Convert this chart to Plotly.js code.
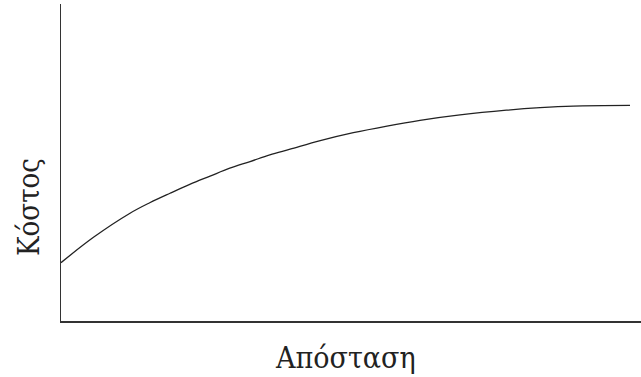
<!DOCTYPE html>
<html>
<head>
<meta charset="utf-8">
<script src="https://cdn.plot.ly/plotly-3.0.1.min.js"></script>
<style>html,body{margin:0;padding:0;background:#fff;}#chart{width:641px;height:377px;}</style>
</head>
<body>
<div id="chart"></div>
<script>
// Distance (arbitrary units) and cost (arbitrary units)
const distance = [0, 5.6, 11.9, 15.3, 18.8, 22.2, 25.7, 29.1, 32.6, 36.0, 39.5, 44.7, 50.4, 56.2, 61.9, 68.8, 76.8, 82.6, 88.3, 98.1];
const cost     = [18.4, 26.4, 34.0, 37.3, 40.3, 43.1, 45.7, 48.2, 50.3, 52.4, 54.2, 56.9, 59.4, 61.5, 63.3, 65.0, 66.5, 67.3, 67.8, 68.0];
const xLabel = "Απόσταση";
const yLabel = "Κόστος";

const trace = {
  x: distance, y: cost, type: "scatter", mode: "lines",
  line: {color: "#222222", width: 1.3, shape: "spline", smoothing: 1},
  hoverinfo: "skip"
};
const fam = "DejaVu Serif Condensed, DejaVu Serif, serif";
const layout = {
  width: 641, height: 377,
  margin: {l: 61, r: 0, t: 4, b: 56},
  paper_bgcolor: "#ffffff", plot_bgcolor: "#ffffff",
  showlegend: false,
  font: {family: fam, color: "#222222"},
  xaxis: {
    range: [0, 100], showgrid: false, zeroline: false, showticklabels: false, ticks: "",
    showline: true, linecolor: "#333333", linewidth: 1.5
  },
  yaxis: {
    range: [0, 100], showgrid: false, zeroline: false, showticklabels: false, ticks: "",
    showline: true, linecolor: "#333333", linewidth: 1.5
  },
  annotations: [
    {text: xLabel, xref: "paper", yref: "paper", x: 0.49, y: 0, xanchor: "center", yanchor: "middle",
     yshift: -36, showarrow: false, font: {size: 30, family: fam, color: "#222222"}},
    {text: yLabel, xref: "paper", yref: "paper", x: 0, y: 0.36, xanchor: "center", yanchor: "middle",
     xshift: -32, textangle: -90, showarrow: false, font: {size: 29, family: fam, color: "#222222"}}
  ]
};
Plotly.newPlot("chart", [trace], layout, {staticPlot: true, displayModeBar: false});
</script>
</body>
</html>
